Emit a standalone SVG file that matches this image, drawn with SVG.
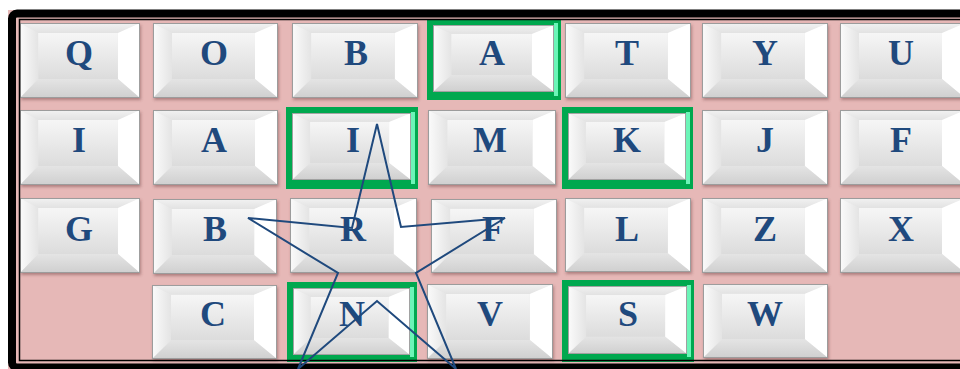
<svg xmlns="http://www.w3.org/2000/svg" xmlns:xlink="http://www.w3.org/1999/xlink" width="960" height="369" viewBox="0 0 960 369">
<style>
.t{font-family:"Liberation Serif","DejaVu Serif",serif;font-weight:bold;font-size:36px;fill:#1F497D;text-anchor:middle}
.k{filter:url(#sh)}
.g{fill:#00A84F}
.m{fill:#6CF5B8}
</style>
<defs>
<filter id="sh" x="-10%" y="-10%" width="120%" height="130%">
<feDropShadow dx="1" dy="2" stdDeviation="1.5" flood-color="#6b3b3b" flood-opacity="0.45"/>
</filter>
<linearGradient id="face" x1="0" y1="0" x2="0" y2="1">
<stop offset="0" stop-color="#f6f6f6"/><stop offset="1" stop-color="#dcdcdc"/>
</linearGradient>
<linearGradient id="lft" x1="0" y1="0" x2="1" y2="0">
<stop offset="0" stop-color="#fbfbfb"/><stop offset="1" stop-color="#e4e4e4"/>
</linearGradient>
<linearGradient id="top" x1="0" y1="0" x2="0" y2="1">
<stop offset="0" stop-color="#f2f2f2"/><stop offset="1" stop-color="#e2e2e2"/>
</linearGradient>
<linearGradient id="bot" x1="0" y1="0" x2="0" y2="1">
<stop offset="0" stop-color="#e4e4e4"/><stop offset="1" stop-color="#cfcfcf"/>
</linearGradient>
<symbol id="key" viewBox="0 0 125 75" preserveAspectRatio="none">
<rect x="0" y="0" width="125" height="75" fill="#e8e8e8"/>
<polygon points="0,0 125,0 102,10 19,10" fill="url(#top)"/>
<polygon points="0,0 19,10 19,56 0,75" fill="url(#lft)"/>
<polygon points="125,0 125,75 102,56 102,10" fill="#ffffff"/>
<polygon points="0,75 19,56 102,56 125,75" fill="url(#bot)"/>
<rect x="19" y="10" width="83" height="46" fill="url(#face)"/>
<rect x="0.5" y="0.5" width="124" height="74" fill="none" stroke="#9c9c9c" stroke-width="1"/>
</symbol>
</defs>

<rect x="8" y="10" width="952" height="359" fill="#E6B8B7"/>

<g id="keys">
<g id="row0">
<g id="k-Q"><use class="k" xlink:href="#key" href="#key" x="20" y="23" width="120" height="75"/><text class="t" x="79" y="65">Q</text></g>
<g id="k-O"><use class="k" xlink:href="#key" href="#key" x="153" y="23" width="125" height="75"/><text class="t" x="214" y="65">O</text></g>
<g id="k-B1"><use class="k" xlink:href="#key" href="#key" x="292" y="23" width="126" height="75"/><text class="t" x="356" y="65">B</text></g>
<g id="k-A1"><rect class="g" x="427" y="19" width="134" height="81"/><rect class="m" x="554" y="23" width="4" height="73"/><use xlink:href="#key" href="#key" x="433" y="25" width="121" height="67"/><text class="t" x="492" y="65">A</text></g>
<g id="k-T"><use class="k" xlink:href="#key" href="#key" x="565" y="23" width="126" height="75"/><text class="t" x="627" y="65">T</text></g>
<g id="k-Y"><use class="k" xlink:href="#key" href="#key" x="702" y="23" width="126" height="75"/><text class="t" x="765" y="65">Y</text></g>
<g id="k-U"><use class="k" xlink:href="#key" href="#key" x="840" y="23" width="125" height="75"/><text class="t" x="901" y="65">U</text></g>
</g>
<g id="row1">
<g id="k-I1"><use class="k" xlink:href="#key" href="#key" x="20" y="110" width="120" height="75"/><text class="t" x="79" y="152">I</text></g>
<g id="k-A2"><use class="k" xlink:href="#key" href="#key" x="153" y="110" width="125" height="75"/><text class="t" x="214" y="152">A</text></g>
<g id="k-I2"><rect class="g" x="286" y="107" width="132" height="82"/><rect class="m" x="411" y="112" width="4" height="72"/><use xlink:href="#key" href="#key" x="292" y="113" width="119" height="67"/><text class="t" x="353" y="152">I</text></g>
<g id="k-M"><use class="k" xlink:href="#key" href="#key" x="428" y="110" width="128" height="75"/><text class="t" x="490" y="152">M</text></g>
<g id="k-K"><rect class="g" x="562" y="107" width="131" height="82"/><rect class="m" x="686" y="112" width="4" height="72"/><use xlink:href="#key" href="#key" x="568" y="113" width="118" height="67"/><text class="t" x="627" y="152">K</text></g>
<g id="k-J"><use class="k" xlink:href="#key" href="#key" x="702" y="110" width="126" height="75"/><text class="t" x="765" y="152">J</text></g>
<g id="k-F1"><use class="k" xlink:href="#key" href="#key" x="840" y="110" width="125" height="75"/><text class="t" x="901" y="152">F</text></g>
</g>
<g id="row2">
<g id="k-G"><use class="k" xlink:href="#key" href="#key" x="20" y="198" width="120" height="75"/><text class="t" x="79" y="241">G</text></g>
<g id="k-B2"><use class="k" xlink:href="#key" href="#key" x="153" y="199" width="124" height="75"/><text class="t" x="215" y="241">B</text></g>
<g id="k-R"><use class="k" xlink:href="#key" href="#key" x="290" y="198" width="127" height="75"/><text class="t" x="353" y="241">R</text></g>
<g id="k-F2"><use class="k" xlink:href="#key" href="#key" x="431" y="199" width="126" height="74"/><text class="t" x="493" y="241">F</text></g>
<g id="k-L"><use class="k" xlink:href="#key" href="#key" x="565" y="198" width="126" height="74"/><text class="t" x="627" y="241">L</text></g>
<g id="k-Z"><use class="k" xlink:href="#key" href="#key" x="702" y="198" width="126" height="75"/><text class="t" x="765" y="241">Z</text></g>
<g id="k-X"><use class="k" xlink:href="#key" href="#key" x="840" y="198" width="125" height="75"/><text class="t" x="901" y="241">X</text></g>
</g>
<g id="row3">
<g id="k-C"><use class="k" xlink:href="#key" href="#key" x="152" y="285" width="125" height="74"/><text class="t" x="213" y="326">C</text></g>
<g id="k-N"><rect class="g" x="287" y="282" width="130" height="80"/><rect class="m" x="410" y="287" width="4" height="70"/><use xlink:href="#key" href="#key" x="293" y="288" width="117" height="67"/><text class="t" x="352" y="326">N</text></g>
<g id="k-V"><use class="k" xlink:href="#key" href="#key" x="427" y="284" width="126" height="75"/><text class="t" x="490" y="326">V</text></g>
<g id="k-S"><rect class="g" x="562" y="280" width="132" height="82"/><rect class="m" x="687" y="285" width="4" height="72"/><use xlink:href="#key" href="#key" x="568" y="286" width="119" height="68"/><text class="t" x="628" y="326">S</text></g>
<g id="k-W"><use class="k" xlink:href="#key" href="#key" x="703" y="284" width="125" height="74"/><text class="t" x="765" y="326">W</text></g>
</g>
</g>

<g id="frame" fill="none" stroke="#000">
<rect x="12" y="13.5" width="1000" height="354" rx="5" stroke-width="8"/>
<rect x="19.5" y="19.5" width="1000" height="341" stroke-width="1.5"/>
</g>

<g id="star">
<polygon points="377,124 401,227 505,218 416,273 456,369 377,301 298,369 338,273 248,218 352,228" fill="none" stroke="#1F497D" stroke-width="2" stroke-linejoin="miter"/>
</g>
</svg>
